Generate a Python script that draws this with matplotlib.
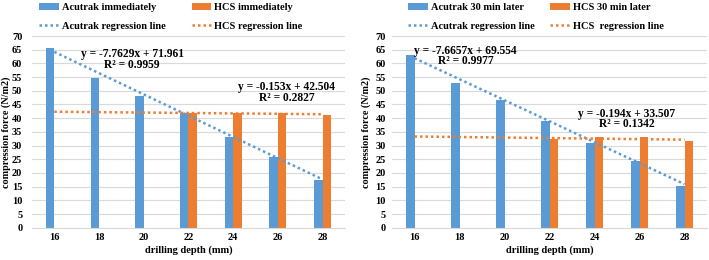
import matplotlib
matplotlib.use("Agg")
import matplotlib.pyplot as plt
import numpy as np

# drilling depth categories (mm)
depths = ["16", "18", "20", "22", "24", "26", "28"]

# left: immediately
acutrak_now = [65.5, 54.5, 48.0, 41.8, 33.0, 26.0, 17.3]
hcs_now = [np.nan, np.nan, np.nan, 41.8, 41.8, 41.9, 41.2]
acutrak_now_fit = (-7.7629, 71.961, 0.9959)
hcs_now_fit = (-0.153, 42.504, 0.2827)

# right: 30 min later
acutrak_30 = [63.0, 53.0, 46.5, 39.0, 31.0, 24.3, 15.3]
hcs_30 = [np.nan, np.nan, np.nan, 32.3, 33.0, 33.1, 31.6]
acutrak_30_fit = (-7.6657, 69.554, 0.9977)
hcs_30_fit = (-0.194, 33.507, 0.1342)

BLUE = "#5B9BD5"
ORANGE = "#ED7D31"

plt.rcParams['font.family'] = ['Liberation Serif', 'DejaVu Serif']
plt.rcParams['font.weight'] = 'bold'

fig = plt.figure(figsize=(7.09, 2.6), dpi=100)
ax1 = fig.add_axes([0.0451, 0.1242, 0.4415, 0.7373])
ax2 = fig.add_axes([0.5529, 0.1242, 0.4443, 0.7373])


def draw(ax, a_vals, h_vals, a_fit, h_fit, a_name, h_name, h_reg_name,
         eq_pos, leg_x, colsp, ylab_x, ypad):
    x = np.arange(len(depths))
    w = 0.19
    ba = ax.bar(x - w / 2, a_vals, w, color=BLUE, zorder=2)
    bh = ax.bar(x + w / 2, h_vals, w, color=ORANGE, zorder=2)
    xs = x + 1
    la, = ax.plot(x, a_fit[0] * xs + a_fit[1], color=BLUE, lw=1.8,
                  ls=(0, (1, 1.2)), zorder=3)
    lh, = ax.plot(x, h_fit[0] * xs + h_fit[1], color=ORANGE, lw=1.8,
                  ls=(0, (1, 1.2)), zorder=3)

    ax.set_xlim(-0.5, len(depths) - 0.5)
    ax.set_ylim(0, 70)
    ax.set_yticks(np.arange(0, 71, 5))
    ax.set_xticks(x)
    ax.set_xticklabels(depths)
    ax.tick_params(length=0, labelsize=7.5)
    ax.tick_params(axis='x', pad=4)
    ax.tick_params(axis='y', pad=ypad)
    ax.grid(axis='y', color="#D9D9D9", lw=0.8, zorder=0)
    for s in ["top", "right", "left"]:
        ax.spines[s].set_visible(False)
    ax.spines["bottom"].set_color("#D9D9D9")
    ax.set_xlabel("drilling depth (mm)", fontsize=7.5, fontweight='bold', labelpad=2)
    ax.set_ylabel("compression force (N/m2)", fontsize=7.3, fontweight='bold')
    ax.yaxis.set_label_coords(ylab_x, 0.5)

    for fit, (ex, ey) in zip([a_fit, h_fit], eq_pos):
        sign = "-" if fit[1] < 0 else "+"
        ax.text(ex, ey, "y = %sx %s %s" % (fit[0], sign, abs(fit[1])),
                ha='center', va='center', fontsize=8.3, fontweight='bold')
        ax.text(ex, ey - 4.0, "R² = %s" % fit[2],
                ha='center', va='center', fontsize=8.3, fontweight='bold')

    ax.legend([ba, la, bh, lh],
              [a_name, "Acutrak regression line", h_name, h_reg_name],
              ncol=2, loc='lower left', bbox_to_anchor=(leg_x, 1.01),
              frameon=False, fontsize=7.5, handlelength=1.9,
              handletextpad=0.3, columnspacing=colsp, labelspacing=0.9,
              borderaxespad=0.2, borderpad=0.1)


draw(ax1, acutrak_now, hcs_now, acutrak_now_fit, hcs_now_fit,
     "Acutrak immediately", "HCS immediately", "HCS regression line",
     [(1.74, 63.3), (5.2, 51.3)], 0.012, 2.5, -0.068, 7)
draw(ax2, acutrak_30, hcs_30, acutrak_30_fit, hcs_30_fit,
     "Acutrak 30 min later", "HCS 30 min later", "HCS  regression line",
     [(1.14, 64.7), (4.72, 41.7)], 0.04, 1.5, -0.066, 4.5)

fig.savefig("out.png", dpi=100)
